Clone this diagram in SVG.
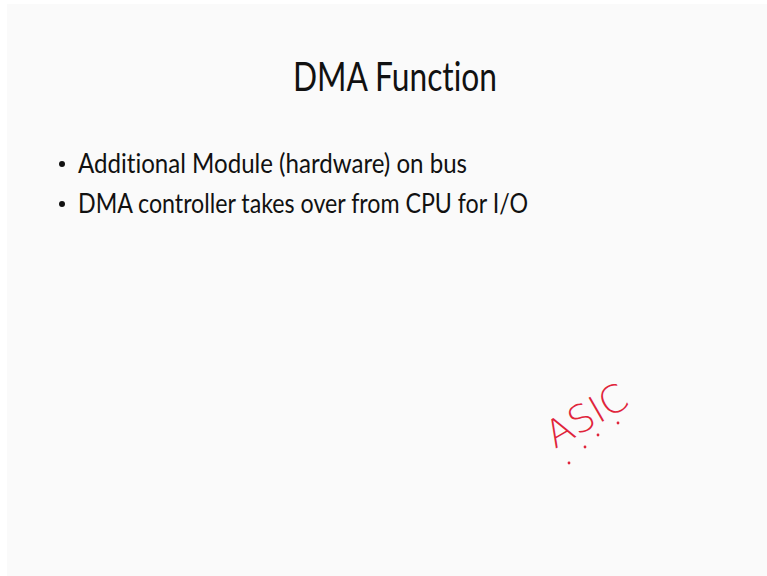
<svg xmlns="http://www.w3.org/2000/svg" width="767" height="576" viewBox="0 0 767 576">
<style>
.t{font-family:Lato,"Open Sans","Liberation Sans",sans-serif;fill:#111;font-variant-ligatures:none}
.hw{font-family:"DejaVu Sans",Lato,sans-serif;font-weight:200;fill:#e0243a}
.dot{fill:#e0243a}
</style>
<rect x="0" y="0" width="767" height="576" fill="#ffffff"/>
<rect x="7" y="4" width="760" height="572" fill="#fafafa"/>
<g id="title"><text class="t" x="293" y="91" font-size="41" textLength="204" lengthAdjust="spacingAndGlyphs">DMA Function</text></g>
<g id="bullets">
<circle cx="62" cy="164" r="3" fill="#111"/>
<text class="t" x="78" y="173" font-size="26" textLength="389" lengthAdjust="spacingAndGlyphs">Additional Module (hardware) on bus</text>
<circle cx="62" cy="204" r="3" fill="#111"/>
<text class="t" x="78" y="213" font-size="26" textLength="450" lengthAdjust="spacingAndGlyphs">DMA controller takes over from CPU for I/O</text>
</g>
<g id="annotation">
<text class="hw" transform="translate(555,449) rotate(-30)" font-size="38" letter-spacing="0">ASIC</text>
<circle class="dot" cx="569" cy="463" r="1.4"/>
<circle class="dot" cx="585" cy="447" r="1.4"/>
<circle class="dot" cx="598" cy="435" r="1.4"/>
<circle class="dot" cx="618" cy="423" r="1.4"/>
</g>
</svg>
